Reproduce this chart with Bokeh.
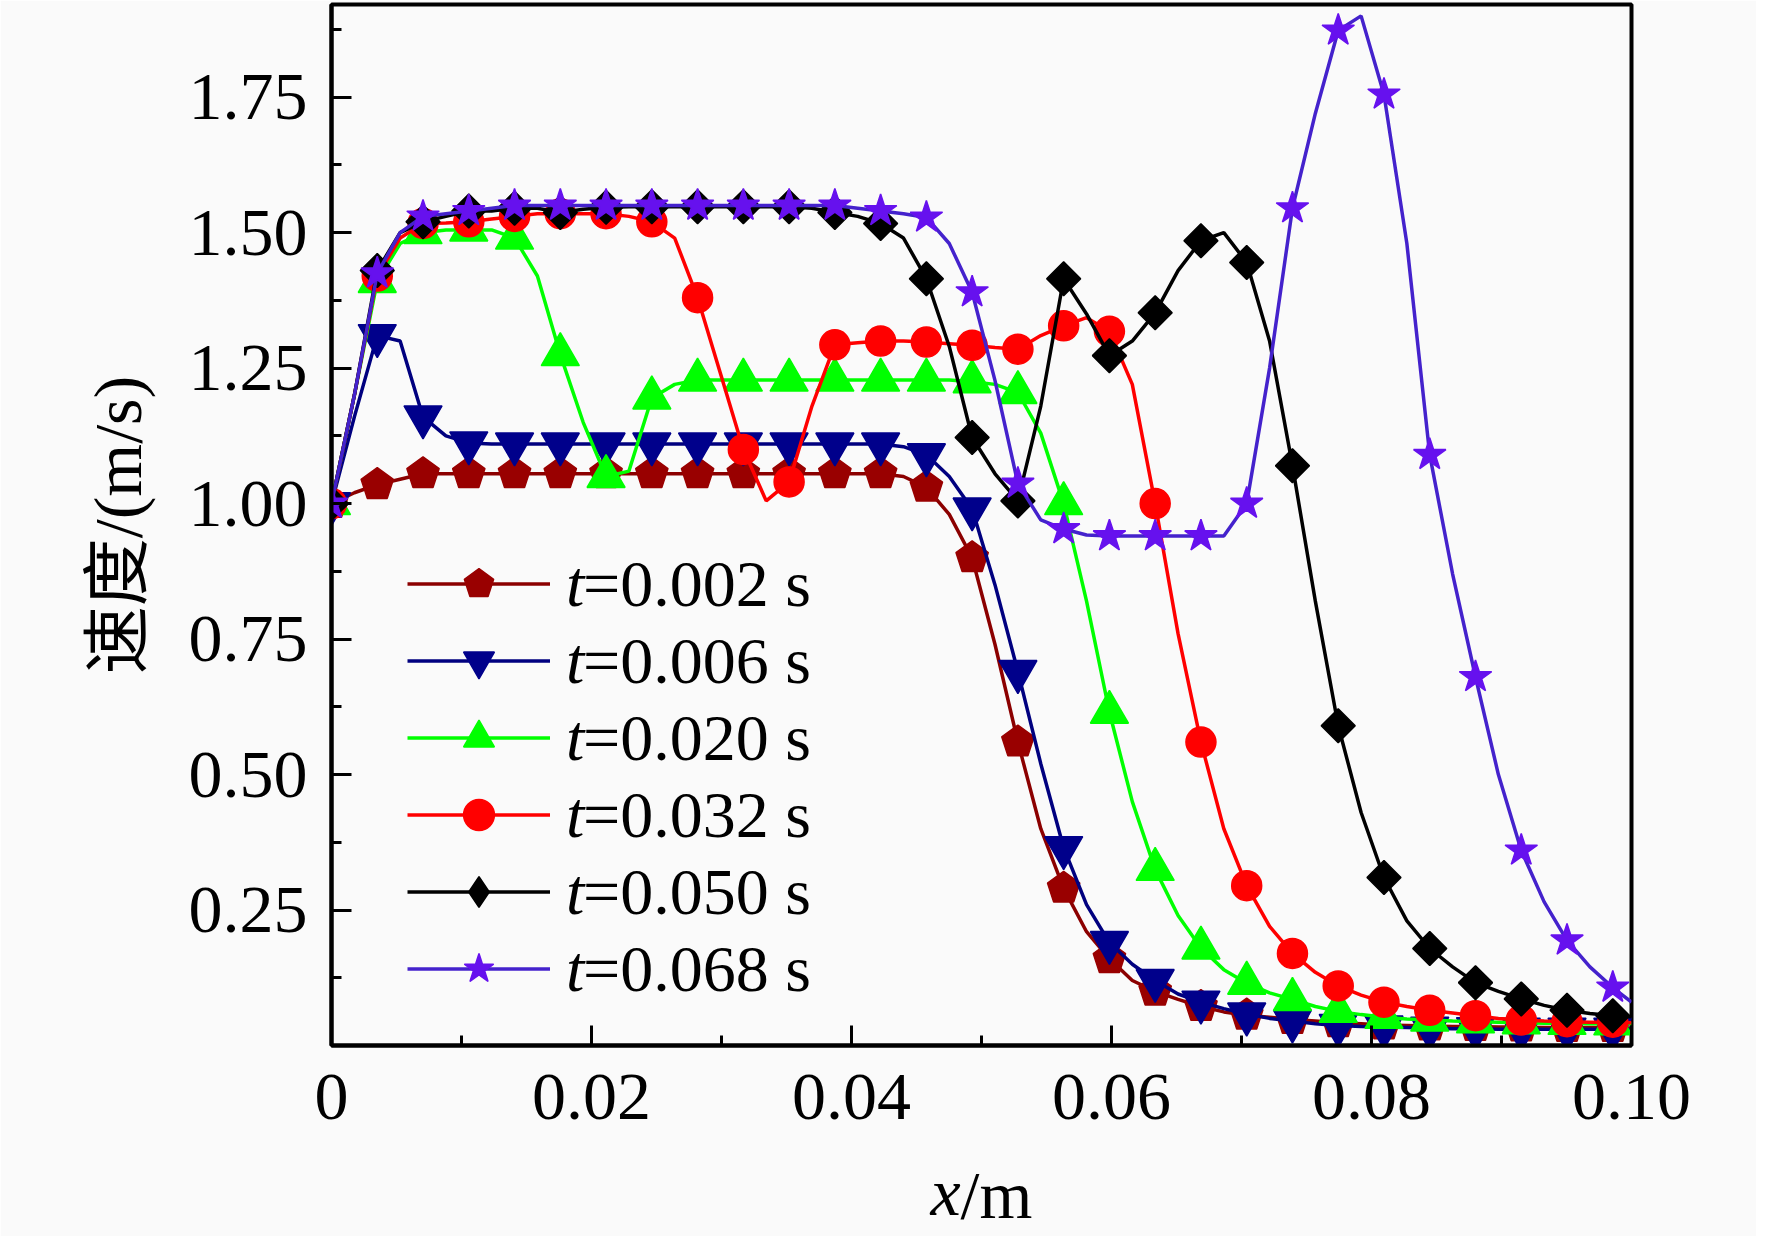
from bokeh.plotting import figure
from bokeh.models import (FixedTicker, PrintfTickFormatter, Legend, LegendItem,
                          LinearAxis, Range1d)
from bokeh.embed import file_html
from bokeh.resources import INLINE

# ---------------- data ----------------
X_POS = [0.0, 0.00176, 0.00352, 0.00528, 0.00704, 0.0088, 0.01056, 0.01232, 0.01408, 0.01584,
         0.0176, 0.01936, 0.02112, 0.02288, 0.02464, 0.0264, 0.02816, 0.02992, 0.03168, 0.03344,
         0.0352, 0.03696, 0.03872, 0.04048, 0.04224, 0.044, 0.04576, 0.04752, 0.04928, 0.05104,
         0.0528, 0.05456, 0.05632, 0.05808, 0.05984, 0.0616, 0.06336, 0.06512, 0.06688, 0.06864,
         0.0704, 0.07216, 0.07392, 0.07568, 0.07744, 0.0792, 0.08096, 0.08272, 0.08448, 0.08624,
         0.088, 0.08976, 0.09152, 0.09328, 0.09504, 0.0968, 0.09856, 0.1]

V_002 = [1.00, 1.02, 1.035, 1.045, 1.055, 1.055, 1.055, 1.055, 1.055, 1.055,
         1.055, 1.055, 1.055, 1.055, 1.055, 1.055, 1.055, 1.055, 1.055, 1.055,
         1.055, 1.055, 1.055, 1.055, 1.055, 1.05, 1.03, 0.98, 0.90, 0.74,
         0.56, 0.40, 0.29, 0.21, 0.16, 0.12, 0.10, 0.085, 0.072, 0.062,
         0.056, 0.052, 0.048, 0.045, 0.042, 0.040, 0.038, 0.037, 0.036, 0.035,
         0.035, 0.034, 0.034, 0.033, 0.033, 0.033, 0.033, 0.032]

V_006 = [1.00, 1.16, 1.31, 1.30, 1.16, 1.125, 1.112, 1.11, 1.11, 1.11,
         1.11, 1.11, 1.11, 1.11, 1.11, 1.11, 1.11, 1.11, 1.11, 1.11,
         1.11, 1.11, 1.11, 1.11, 1.11, 1.105, 1.09, 1.05, 0.99, 0.85,
         0.69, 0.52, 0.365, 0.26, 0.19, 0.15, 0.12, 0.095, 0.08, 0.068,
         0.058, 0.05, 0.045, 0.04, 0.037, 0.035, 0.034, 0.033, 0.032, 0.031,
         0.031, 0.030, 0.030, 0.030, 0.030, 0.030, 0.030, 0.030]

V_020 = [1.00, 1.20, 1.41, 1.48, 1.50, 1.505, 1.505, 1.505, 1.49, 1.42,
         1.275, 1.15, 1.05, 1.06, 1.195, 1.22, 1.228, 1.228, 1.228, 1.228,
         1.228, 1.228, 1.228, 1.228, 1.228, 1.228, 1.228, 1.228, 1.225, 1.22,
         1.205, 1.13, 1.00, 0.82, 0.615, 0.45, 0.325, 0.24, 0.18, 0.14,
         0.115, 0.097, 0.085, 0.072, 0.063, 0.057, 0.052, 0.049, 0.047, 0.045,
         0.044, 0.043, 0.042, 0.041, 0.041, 0.040, 0.040, 0.040]

V_032 = [1.00, 1.20, 1.42, 1.49, 1.517, 1.518, 1.52, 1.525, 1.53, 1.535,
         1.535, 1.535, 1.535, 1.53, 1.52, 1.49, 1.38, 1.24, 1.10, 1.005,
         1.04, 1.18, 1.293, 1.297, 1.30, 1.30, 1.298, 1.295, 1.292, 1.288,
         1.285, 1.31, 1.328, 1.343, 1.318, 1.22, 1.00, 0.76, 0.56, 0.40,
         0.295, 0.22, 0.17, 0.135, 0.11, 0.093, 0.08, 0.072, 0.065, 0.06,
         0.055, 0.05, 0.047, 0.045, 0.044, 0.043, 0.043, 0.042]

V_050 = [1.00, 1.20, 1.43, 1.50, 1.52, 1.53, 1.54, 1.54, 1.545, 1.545,
         1.537, 1.543, 1.547, 1.548, 1.548, 1.548, 1.548, 1.548, 1.548, 1.548,
         1.548, 1.545, 1.537, 1.53, 1.517, 1.49, 1.415, 1.29, 1.122, 1.055,
         1.005, 1.18, 1.415, 1.35, 1.273, 1.30, 1.352, 1.43, 1.485, 1.50,
         1.445, 1.30, 1.07, 0.82, 0.59, 0.43, 0.31, 0.23, 0.179, 0.145,
         0.116, 0.10, 0.086, 0.074, 0.065, 0.059, 0.055, 0.053]

V_068 = [1.00, 1.20, 1.425, 1.50, 1.53, 1.535, 1.54, 1.545, 1.55, 1.55,
         1.55, 1.55, 1.55, 1.55, 1.55, 1.55, 1.55, 1.55, 1.55, 1.55,
         1.55, 1.55, 1.55, 1.545, 1.54, 1.535, 1.528, 1.48, 1.39, 1.227,
         1.037, 0.97, 0.953, 0.942, 0.94, 0.94, 0.94, 0.94, 0.94, 0.94,
         1.00, 1.25, 1.545, 1.72, 1.873, 1.90, 1.755, 1.48, 1.09, 0.87,
         0.68, 0.50, 0.36, 0.265, 0.194, 0.145, 0.107, 0.08]

SERIES_LABELS = ["=0.002 s", "=0.006 s", "=0.020 s", "=0.032 s", "=0.050 s", "=0.068 s"]
SERIES_VALUES = [V_002, V_006, V_020, V_032, V_050, V_068]

X_TICKS = [0.0, 0.02, 0.04, 0.06, 0.08, 0.1]
X_MINOR = [0.01, 0.03, 0.05, 0.07, 0.09]
Y_TICKS = [0.25, 0.5, 0.75, 1.0, 1.25, 1.5, 1.75]
Y_MINOR = [0.125, 0.375, 0.625, 0.875, 1.125, 1.375, 1.625, 1.875]

# x-axis title pieces: italic "x" and upright "/m" (anchor positions along x)
XTITLE_X_AT = 0.04723
XTITLE_UNIT_AT = 0.05115

# ---------------- styles ----------------
LINE_COLORS = ["#8B0000", "#00007F", "#00FF00", "#FF0000", "#000000", "#4422CC"]
MARK_COLORS = ["#990000", "#00008B", "#00FF00", "#FF0000", "#000000", "#6611EE"]
MARKERS = ["pentagon", "inverted_triangle", "triangle", "circle", "diamond", "star"]
MARK_SIZES = [30, 38, 38, 30, 24, 34]
SERIF = "Liberation Serif"
BG = "#FAFAFA"
FIG_H = 1236
TXT_H = 76

p = figure(width=1756, height=FIG_H, output_backend="svg", toolbar_location=None,
           x_range=Range1d(0, 0.1), y_range=Range1d(0, 1.921),
           min_border_left=331, min_border_right=125, min_border_top=4,
           min_border_bottom=FIG_H - 1045,
           background_fill_color=BG, border_fill_color=BG)
p.grid.visible = False
p.outline_line_color = "black"
p.outline_line_width = 4
p.outline_line_alpha = 1.0

for ax in (p.xaxis[0], p.yaxis[0]):
    ax.axis_line_width = 4
    ax.axis_line_color = "black"
    ax.major_tick_in = 20
    ax.major_tick_out = 0
    ax.minor_tick_in = 10
    ax.minor_tick_out = 0
    ax.major_tick_line_width = 3
    ax.minor_tick_line_width = 3
    ax.major_tick_line_color = "black"
    ax.minor_tick_line_color = "black"
    ax.major_label_text_font = SERIF
    ax.major_label_text_font_size = "68px"
    ax.major_label_text_color = "black"

p.xaxis.ticker = FixedTicker(ticks=X_TICKS, minor_ticks=X_MINOR)
p.xaxis.formatter = PrintfTickFormatter(format="%.2f")
p.xaxis.major_label_overrides = {0: "0"}
p.xaxis.major_label_standoff = 29
p.yaxis.ticker = FixedTicker(ticks=Y_TICKS, minor_ticks=Y_MINOR)
p.yaxis.formatter = PrintfTickFormatter(format="%.2f")
p.yaxis.major_label_standoff = 24
p.yaxis.axis_label = "速度/(m/s)"
p.yaxis.axis_label_text_font = "Liberation Serif, Noto Sans CJK SC"
p.yaxis.axis_label_text_font_size = "68px"
p.yaxis.axis_label_text_font_style = "normal"
p.yaxis.axis_label_text_color = "black"
p.yaxis.axis_label_standoff = 30


def title_axis(pos, text, style, standoff):
    ax = LinearAxis(ticker=FixedTicker(ticks=[pos], minor_ticks=[]),
                    major_label_overrides={pos: text},
                    axis_line_alpha=0, major_tick_line_alpha=0, minor_tick_line_alpha=0,
                    major_tick_in=0, major_tick_out=0, minor_tick_in=0, minor_tick_out=0,
                    major_label_standoff=standoff, major_label_text_font=SERIF,
                    major_label_text_font_size="68px", major_label_text_font_style=style,
                    major_label_text_color="black")
    p.add_layout(ax, "below")


title_axis(XTITLE_X_AT, "x", "italic", 32)
title_axis(XTITLE_UNIT_AT, "/m", "normal", -TXT_H)

mk_x = X_POS[0:57:2]
items = []
for vals, lab, lc, mc, mk, ms in zip(SERIES_VALUES, SERIES_LABELS, LINE_COLORS,
                                      MARK_COLORS, MARKERS, MARK_SIZES):
    lr = p.line(X_POS, vals, line_color=lc, line_width=3.5)
    mk_y = vals[0:57:2]
    legend_r = None
    if mk == "pentagon":
        try:
            mr = p.ngon(x=mk_x, y=mk_y, radius=17, radius_units="screen", n=5,
                        angle=0.0, fill_color=mc, line_color=mc, line_width=1.5)
        except Exception:
            mr = p.scatter(mk_x, mk_y, marker="hex", size=ms, fill_color=mc,
                           line_color=mc, line_width=1.5)
    elif mk == "diamond":
        mr = p.scatter(mk_x, mk_y, marker="square", size=ms, angle=0.7854,
                       fill_color=mc, line_color=mc, line_width=1.5)
        # legend swatch (the legend does not rotate markers); hidden inside the first marker
        legend_r = p.scatter(mk_x[:1], mk_y[:1], marker="diamond", size=18,
                             fill_color=mc, line_color=mc, line_width=1.5)
    else:
        mr = p.scatter(mk_x, mk_y, marker=mk, size=ms, fill_color=mc,
                       line_color=mc, line_width=1.5)
    items.append(LegendItem(label=lab, renderers=[lr, legend_r if legend_r is not None else mr]))

dummy = p.line(x=[], y=[], line_alpha=0)
t_items = [LegendItem(label="t", renderers=[dummy]) for _ in SERIES_LABELS]

common = dict(location=(76, 38), orientation="vertical", glyph_width=143,
              glyph_height=77, label_height=77, spacing=0, padding=0, margin=0,
              label_text_font=SERIF, label_text_font_size="66px",
              label_text_color="black",
              background_fill_alpha=0, border_line_alpha=0)
leg_main = Legend(items=items, label_standoff=33, **common)
leg_t = Legend(items=t_items, label_standoff=16, label_text_font_style="italic", **common)
p.add_layout(leg_main)
p.add_layout(leg_t)

open("out.html", "w").write(file_html(p, INLINE))
